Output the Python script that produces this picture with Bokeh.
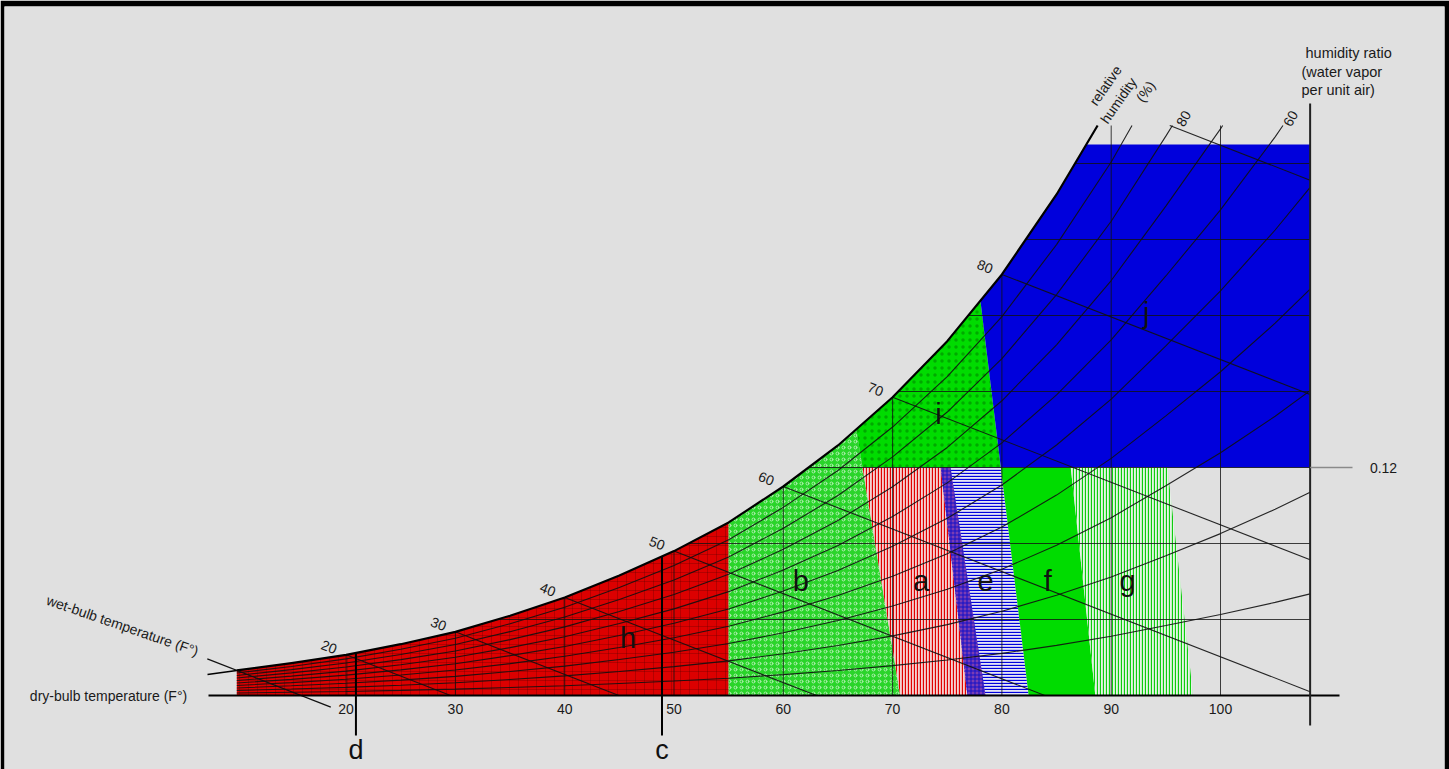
import numpy as np
from bokeh.plotting import figure
from bokeh.models import Range1d, Label
from bokeh.embed import file_html
from bokeh.resources import INLINE

# ---------------- data ----------------
# saturation curve (dry-bulb °F, humidity ratio)
sat_T = [10, 15, 20, 25, 30, 35, 40, 45, 50, 55, 60, 65, 70, 75, 80, 85, 90, 95, 100, 105, 110]
sat_W = [0.0132, 0.0170, 0.0214, 0.0270, 0.0335, 0.0420, 0.0516, 0.0632, 0.0760, 0.0911,
         0.1100, 0.1316, 0.1570, 0.1865, 0.2216, 0.2637, 0.3120, 0.3680, 0.4260, 0.4900, 0.5600]
rh_levels = [10, 20, 30, 40, 50, 60, 70, 80, 90]          # relative humidity curves (%)
wb_T = [20, 30, 40, 50, 60, 70, 80, 90]                   # wet-bulb lines (°F)
wb_labels = ["20", "30", "40", "50", "60", "70", "80"]
wb_slope = -0.00224                                       # humidity ratio per °F along wet-bulb lines
wb_leader_T = [7.3, 18.6]                                 # wet-bulb 10 line, used as leader
db_ticks = [20, 30, 40, 50, 60, 70, 80, 90, 100]          # dry-bulb lines / tick labels
hr_lines = [0.04, 0.08, 0.12, 0.16, 0.20, 0.24, 0.28]     # humidity ratio lines
hr_tick = 0.12
w_clip = 0.30          # top of drawn lines
w_blue_top = 0.29      # top of zone j
T_axis = 108.2         # humidity ratio axis position
T_start = 10           # left edge of chart
T_h_end = 55           # right edge of zone h
# slanted zone boundaries: T at W=0 and T at W=0.12
# order: b|a, a right, e left, e right (= i|j), f right, g right
bound_T0 = [70.7, 78.5, 76.85, 82.45, 88.55, 97.5]
bound_T12 = [67.25, 75.3, 74.4, 79.9, 86.3, 95.15]
marker_T = [20.9, 48.9]
marker_names = ["d", "c"]
zone_letters = ["h", "b", "a", "e", "f", "g", "i", "j"]
zone_letter_T = [45.8, 61.6, 72.6, 78.5, 84.2, 91.5, 74.2, 93.2]
zone_letter_W = [0.0305, 0.0605, 0.0605, 0.0605, 0.0605, 0.0605, 0.1479, 0.2011]

# ---------------- helpers (picture pixel -> data, for annotation placement) -------------
def X(px):
    return 100 - (1220 - px) / 10.93

def Y(py):
    return (695 - py) / 1900.0

sT = np.array(sat_T, float)
sW = np.array(sat_W, float)

def wsat(T):
    return float(np.interp(T, sT, sW))

def tsat(W):
    return float(np.interp(W, sW, sT))

def bline(i, W):
    return bound_T0[i] + (bound_T12[i] - bound_T0[i]) * W / 0.12

def bcross(i):
    lo, hi = 0.02, 0.35
    for _ in range(60):
        mid = 0.5 * (lo + hi)
        if wsat(bline(i, mid)) - mid > 0:
            lo = mid
        else:
            hi = mid
    W = 0.5 * (lo + hi)
    return bline(i, W), W

def clip_poly(xs, ys, xmax, ymax):
    ox, oy = [xs[0]], [ys[0]]
    for k in range(1, len(xs)):
        x0, y0, x1, y1 = xs[k - 1], ys[k - 1], xs[k], ys[k]
        if x1 <= xmax and y1 <= ymax:
            ox.append(x1); oy.append(y1)
            continue
        f = 1.0
        if x1 > xmax:
            f = min(f, (xmax - x0) / (x1 - x0))
        if y1 > ymax:
            f = min(f, (ymax - y0) / (y1 - y0))
        ox.append(x0 + f * (x1 - x0)); oy.append(y0 + f * (y1 - y0))
        break
    return ox, oy

# ---------------- figure ----------------
# black border of the picture: 4px left, 6px top, 5px right
p = figure(width=1449, height=769,
           x_range=Range1d(X(4), X(1444)), y_range=Range1d(Y(769), Y(6)),
           output_backend="svg", toolbar_location=None,
           x_axis_location=None, y_axis_location=None,
           min_border_left=4, min_border_right=5, min_border_top=6, min_border_bottom=0,
           background_fill_color="#e0e0e0", border_fill_color="#000000",
           outline_line_color=None)
p.xgrid.visible = False if p.xgrid else None
p.ygrid.visible = False if p.ygrid else None

FONT = "Liberation Sans"

# ---------------- zones ----------------
Tab, Wab = bcross(0)     # b|a line meets saturation
Tij, Wij = bcross(3)     # i|j line meets saturation
T_top = tsat(w_blue_top)

# h
hx = [T_start] + [t for t in sat_T if T_start <= t <= T_h_end] + [T_h_end]
hy = [0] + [w for t, w in zip(sat_T, sat_W) if T_start <= t <= T_h_end] + [0]
p.patch(hx, hy, fill_color="#dc0000", line_color=None,
        hatch_pattern="cross", hatch_color="#4a0000", hatch_alpha=0.35,
        hatch_scale=9, hatch_weight=0.8)

# b
bx = [T_h_end] + [t for t in sat_T if T_h_end <= t < Tab] + [Tab, bound_T0[0]]
by = [0] + [w for t, w in zip(sat_T, sat_W) if T_h_end <= t < Tab] + [Wab, 0]
p.patch(bx, by, fill_color="#2ad42a", line_color=None,
        hatch_pattern="ring", hatch_color="#ffffff", hatch_alpha=0.55,
        hatch_scale=6, hatch_weight=1)

# i
ix = [Tab] + [t for t in sat_T if Tab < t < Tij] + [Tij, bound_T12[3], bound_T12[0]]
iy = [Wab] + [w for t, w in zip(sat_T, sat_W) if Tab < t < Tij] + [Wij, 0.12, 0.12]
p.patch(ix, iy, fill_color="#00dc00", line_color=None,
        hatch_pattern="dot", hatch_color="#003300", hatch_alpha=0.3,
        hatch_scale=7, hatch_weight=0.3)

# j
jx = [Tij] + [t for t in sat_T if Tij < t < T_top] + [T_top, T_axis, T_axis, bound_T12[3]]
jy = [Wij] + [w for t, w in zip(sat_T, sat_W) if Tij < t < T_top] + [w_blue_top, w_blue_top, 0.12, 0.12]
p.patch(jx, jy, fill_color="#0000dc", line_color=None)

def band(i_left, i_right, **kw):
    xs = [bound_T0[i_left], bound_T12[i_left], bound_T12[i_right], bound_T0[i_right]]
    ys = [0, 0.12, 0.12, 0]
    p.patch(xs, ys, line_color=None, **kw)

band(0, 1, fill_color="#f4d0d0", hatch_pattern="vertical_line", hatch_color="#e00000",
     hatch_scale=3, hatch_weight=1.3)                                    # a
band(2, 3, fill_color="#e4e4f6", hatch_pattern="horizontal_line", hatch_color="#0000dc",
     hatch_scale=3, hatch_weight=1.3)                                    # e
band(2, 1, fill_color="#7a3cb4", hatch_pattern="cross", hatch_color="#1010c8",
     hatch_scale=4, hatch_weight=1)                                      # a/e overlap
band(3, 4, fill_color="#00dc00")                                         # f
band(4, 5, fill_color="#e6f4e6", hatch_pattern="vertical_line", hatch_color="#10cc10",
     hatch_scale=3, hatch_weight=1.3)                                    # g

# ---------------- chart lines ----------------
LC = "#111111"
# dry-bulb verticals
for t in db_ticks:
    p.line([t, t], [0, min(wsat(t), w_clip)], line_color=LC, line_width=1, line_alpha=0.8)
# humidity ratio horizontals
for w in hr_lines:
    p.line([tsat(w), T_axis], [w, w], line_color=LC, line_width=1, line_alpha=0.8)
# relative humidity curves
for rh in rh_levels:
    xs, ys = clip_poly(sat_T, [rh / 100.0 * w for w in sat_W], T_axis, w_clip)
    p.line(xs, ys, line_color=LC, line_width=1.1, line_alpha=0.9)
# wet-bulb lines
for t in wb_T:
    w0 = wsat(t)
    t0 = t
    if w0 > w_clip:
        t0 = t + (w0 - w_clip) / (-wb_slope)
        w0 = w_clip
    t1 = t0 + w0 / (-wb_slope)
    if t1 > T_axis:
        t1 = T_axis
    w1 = w0 + wb_slope * (t1 - t0)
    p.line([t0, t1], [w0, w1], line_color=LC, line_width=1.1, line_alpha=0.9)
# wet-bulb 10 line extended as label leader
w10 = wsat(10)
p.line(wb_leader_T, [w10 + wb_slope * (tt - 10) for tt in wb_leader_T],
       line_color=LC, line_width=1.3)

# saturation curve
scx, scy = clip_poly(sat_T, sat_W, 200, w_clip)
p.line(scx, scy, line_color="#000000", line_width=2.2, line_join="round")
p.line([X(207), T_start], [Y(674), wsat(T_start)], line_color="#000000", line_width=1.5)

# axes
p.line([X(208), X(1339)], [0, 0], line_color="#000000", line_width=2)
p.line([T_axis, T_axis], [Y(725), Y(103)], line_color="#222222", line_width=2)
p.line([T_axis, X(1352)], [hr_tick, hr_tick], line_color="#8a8a8a", line_width=1.5)

# ---------------- texts ----------------
def lab(x, y, text, size="14px", angle=0, align="center", baseline="middle", color="#1a1a1a"):
    p.add_layout(Label(x=x, y=y, text=text, text_font=FONT, text_font_size=size,
                       angle=angle, angle_units="deg", text_align=align,
                       text_baseline=baseline, text_color=color))

# markers c, d
for t, nm in zip(marker_T, marker_names):
    p.line([t, t], [wsat(t), Y(735)], line_color="#000000", line_width=2)
    lab(t, Y(749), nm, size="27px", color="#111111")

for t in db_ticks:
    lab(t, Y(708), str(t))

wb_ang = -np.degrees(np.arctan(0.39))
for t, s in zip(wb_T, wb_labels):
    lab(t - 1.55, wsat(t) + 0.0042, s, angle=wb_ang)

for nm, t, w in zip(zone_letters, zone_letter_T, zone_letter_W):
    lab(t, w, nm, size="29px", color="#111111")

lab(X(108), Y(695), "dry-bulb temperature (F°)")
lab(X(122), Y(625), "wet-bulb temperature (F°)", angle=-19)
lab(X(1383), Y(467), f"{hr_tick:.2f}")
lab(X(1305), Y(52), "humidity ratio", size="14.5px", align="left")
lab(X(1301), Y(71), "(water vapor", size="14.5px", align="left")
lab(X(1301), Y(89), "per unit air)", size="14.5px", align="left")
lab(X(1105), Y(85), "relative", angle=55)
lab(X(1118), Y(100), "humidity", angle=55)
lab(X(1145), Y(91), "(%)", angle=55)
lab(X(1183), Y(118), "80", angle=60)
lab(X(1290), Y(118), "60", angle=60)

open("out.html", "w").write(file_html(p, INLINE))
